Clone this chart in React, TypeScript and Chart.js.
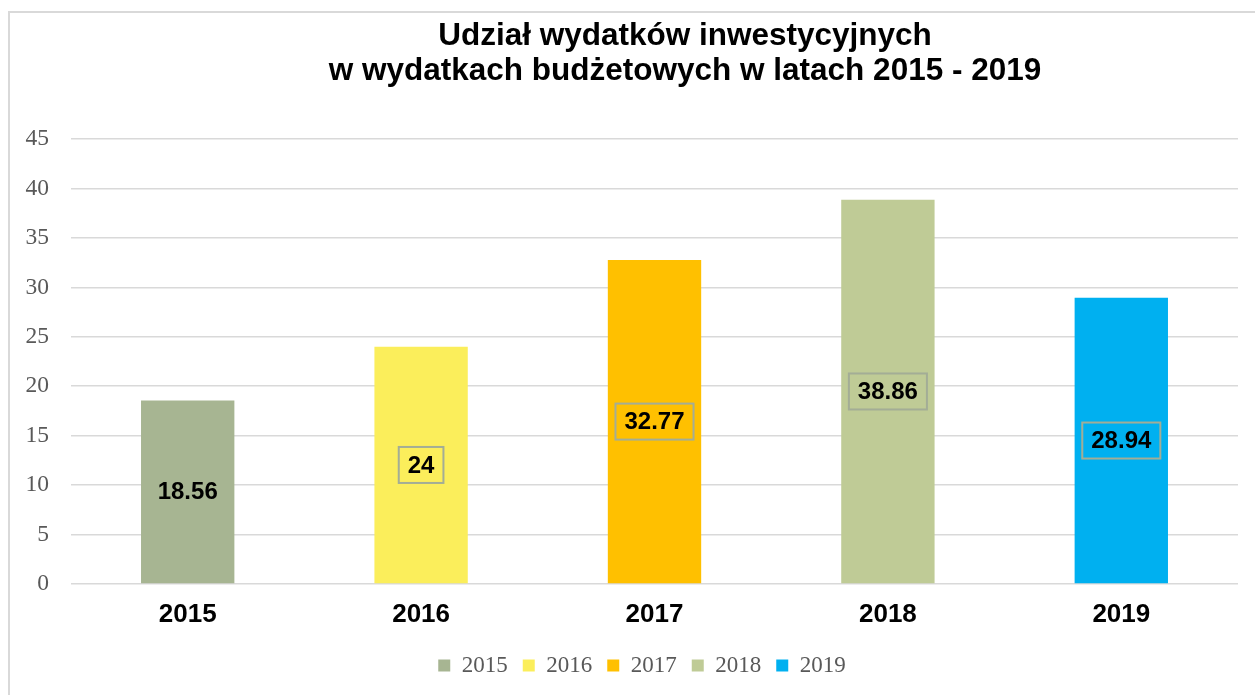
import React, { useEffect, useRef } from "react";
import { Chart, registerables } from "chart.js";

Chart.register(...registerables);

const categories = ["2015", "2016", "2017", "2018", "2019"];
const values = [18.56, 24, 32.77, 38.86, 28.94];
const barColors = ["#A7B592", "#FBEE5B", "#FFC000", "#BFCB96", "#00B0F0"];
const labelBoxed = [false, true, true, true, true];
const titleLines = [
  "Udział wydatków inwestycyjnych",
  "w wydatkach budżetowych w latach 2015 - 2019",
];
const yMin = 0;
const yMax = 45;
const yStep = 5;

const SANS = "'Liberation Sans', Arial, sans-serif";
const SERIF = "'Liberation Serif', 'Times New Roman', serif";

const titlePlugin = {
  id: "customTitle",
  afterDraw(chart: any) {
    const ctx = chart.ctx;
    ctx.save();
    ctx.font = `bold 31.5px ${SANS}`;
    ctx.fillStyle = "#000000";
    ctx.textAlign = "center";
    ctx.textBaseline = "alphabetic";
    ctx.fillText(titleLines[0], 675, 32);
    ctx.fillText(titleLines[1], 675, 67);
    ctx.restore();
  },
};

const legendShiftPlugin = {
  id: "legendShift",
  afterLayout(chart: any) {
    const lg = chart.legend;
    if (lg) {
      lg.left += 18;
      lg.right += 18;
    }
  },
};

const valueLabelPlugin = {
  id: "valueLabels",
  afterDatasetsDraw(chart: any) {
    const meta = chart.getDatasetMeta(0);
    const ctx = chart.ctx;
    ctx.save();
    ctx.font = `bold 24px ${SANS}`;
    ctx.textAlign = "center";
    ctx.textBaseline = "middle";
    meta.data.forEach((bar: any, i: number) => {
      const { x, y, base } = bar.getProps(["x", "y", "base"], true);
      const cy = (y + base) / 2;
      const text = String(values[i]);
      const w = ctx.measureText(text).width;
      if (labelBoxed[i]) {
        ctx.strokeStyle = "#A3AD96";
        ctx.lineWidth = 2;
        ctx.strokeRect(x - w / 2 - 9, cy - 18, w + 18, 36);
      }
      ctx.fillStyle = "#000000";
      ctx.fillText(text, x, cy + 1);
    });
    ctx.restore();
  },
};

export default function App() {
  const canvasRef = useRef<HTMLCanvasElement | null>(null);

  useEffect(() => {
    if (!canvasRef.current) return;
    const chart = new Chart(canvasRef.current, {
      type: "bar",
      data: {
        labels: categories,
        datasets: [
          {
            label: "Udział",
            data: values,
            backgroundColor: barColors,
            borderWidth: 0,
            categoryPercentage: 1,
            barPercentage: 0.4,
          },
        ],
      },
      options: {
        responsive: true,
        maintainAspectRatio: false,
        animation: false,
        layout: { padding: { top: 126, right: 17, bottom: 8, left: 0 } },
        scales: {
          x: {
            grid: { display: false, drawTicks: false },
            border: { display: false },
            ticks: {
              color: "#000000",
              font: { family: SANS, size: 26, weight: "bold" },
              padding: 15,
            },
            afterFit(scale: any) {
              scale.height = 55;
            },
          },
          y: {
            min: yMin,
            max: yMax,
            ticks: {
              stepSize: yStep,
              color: "#595959",
              font: { family: SERIF, size: 23.5 },
              padding: 22,
            },
            grid: { color: "#D9D9D9", lineWidth: 1.5, drawTicks: false },
            border: { display: false },
            afterFit(scale: any) {
              scale.width = 61;
            },
          },
        },
        plugins: {
          title: { display: false },
          tooltip: { enabled: false },
          legend: {
            position: "bottom",
            onClick: () => {},
            labels: {
              boxWidth: 12,
              boxHeight: 12,
              padding: 15,
              color: "#595959",
              font: { family: SERIF, size: 23 },
              generateLabels: () =>
                categories.map((c, i) => ({
                  text: c,
                  fillStyle: barColors[i],
                  strokeStyle: barColors[i],
                  lineWidth: 0,
                  hidden: false,
                  index: i,
                  fontColor: "#595959",
                })),
            },
          },
        },
      },
      plugins: [titlePlugin, valueLabelPlugin, legendShiftPlugin],
    } as any);
    return () => chart.destroy();
  }, []);

  return (
    <div
      style={{
        position: "absolute",
        left: 8,
        top: 11,
        width: 1247,
        height: 684,
        boxSizing: "border-box",
        borderTop: "2px solid #D9D9D9",
        borderLeft: "2px solid #D9D9D9",
        background: "#FFFFFF",
      }}
    >
      <div style={{ position: "relative", width: 1245, height: 682 }}>
        <canvas ref={canvasRef} />
      </div>
    </div>
  );
}
